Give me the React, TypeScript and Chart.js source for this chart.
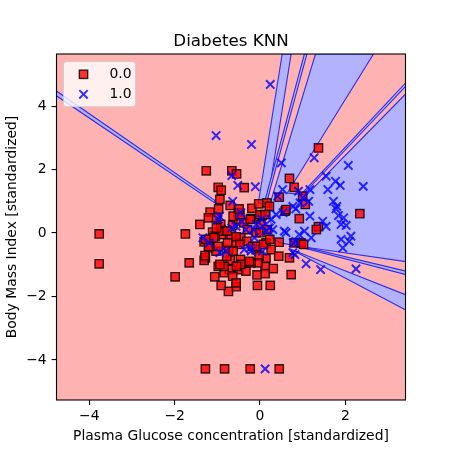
import { useEffect, useRef } from "react";
import { Chart, registerables } from "chart.js";

Chart.register(...registerables);

// Axis limits (standardized units)
const X_MIN = -4.77;
const X_MAX = 3.41;
const Y_MIN = -5.26;
const Y_MAX = 5.64;

const xTicks = [-4, -2, 0, 2];
const yTicks = [-4, -2, 0, 2, 4];

const classLabels = ["0.0", "1.0"];

// Class 0.0 samples: [glucose, bmi]
const class0Points: [number, number][] = [
  [-3.77, -0.03], [-3.77, -0.97], [-1.99, -1.38], [-1.75, -0.03], [-1.66, -0.94],
  [-1.28, -4.28], [-0.83, -4.28], [-0.23, -4.28], [0.45, -4.28],
  [-1.26, 1.96], [-0.66, 1.96], [-0.55, 1.86], [1.37, 2.68], [2.34, 0.61], [0.69, 1.72], [0.80, 1.44],
  [-0.98, 1.44], [-0.91, 1.35], [-0.37, 1.43], [-0.94, 1.06], [1.00, 1.16], [1.06, 0.90], [0.45, 1.13],
  [0.59, 0.69], [0.92, 0.45], [1.37, 0.20], [1.32, 0.11],
  [-1.41, 0.27], [-1.17, 0.66], [-0.97, 0.76], [-0.70, 0.87], [-0.51, 0.64], [-0.19, 0.78], [-0.03, 0.92],
  [0.05, 0.56], [0.16, 0.95], [-0.21, 0.45], [-0.64, 0.24], [-0.91, 0.11], [-1.11, 0.03], [-1.31, -0.28],
  [-1.19, -0.47], [-1.03, -0.57], [-0.73, -0.52], [-0.91, -0.05], [-0.68, -0.05], [-0.45, -0.15],
  [-0.31, -0.26], [-0.17, -0.42], [0.14, -0.31], [0.26, -0.52], [0.45, -0.29], [0.44, -0.73],
  [0.69, -0.78], [0.80, -0.31], [0.96, -0.31], [1.02, -0.36], [0.73, -1.31], [0.31, -1.12],
  [0.14, -0.81], [0.12, -1.05], [0.12, -1.28], [-0.07, -1.32], [-0.06, -1.65], [0.24, -1.65],
  [-0.56, -1.69], [-0.74, -1.84], [-0.91, -1.65], [-1.06, -1.38], [-0.98, -1.05], [-0.70, -0.86],
  [-0.49, -1.15], [-0.33, -1.20], [-0.46, -0.83], [-0.72, -1.15], [-0.64, -1.36], [-0.84, -1.25],
  [-1.28, -0.78], [-1.31, -0.86], [-1.19, -0.20], [-1.05, -0.10], [-0.92, 0.27], [-0.87, 0.06],
  [-0.50, 0.43], [-0.38, 0.32], [-0.29, 0.11], [-0.09, 0.01], [0.02, 0.27], [0.22, 0.84],
  [-0.09, -0.52], [-0.02, -0.73], [-0.05, -0.94], [-0.21, -0.94], [-0.45, -0.99], [-0.76, -0.31],
  [-0.56, -0.31], [-0.56, -1.57], [-1.02, 0.48], [-1.21, 0.48], [-0.63, 0.53], [-0.47, 0.58],
  [-0.23, 0.43], [0.00, 0.58], [0.12, 0.58], [0.00, 0.01], [-0.08, -0.42], [-1.02, 0.16],
  [-0.77, 0.06], [-0.56, -0.12], [-0.47, -0.36], [0.08, -0.36], [0.23, -0.20], [-0.84, -1.05],
  [-0.55, -1.05], [-0.25, -0.89], [-0.94, -0.99], [-1.29, -0.71], [-0.78, -0.73], [-0.63, -0.57],
  [-0.98, -0.42], [-1.21, -0.42], [-1.09, -0.15], [-1.27, -0.20], [0.61, 0.74], [-0.49, 0.76],
  [0.16, 0.11],
];

// Class 1.0 samples: [glucose, bmi]
const class1Points: [number, number][] = [
  [0.24, 4.68], [-1.03, 3.07], [-0.20, 2.79], [1.27, 2.37], [0.50, 2.21], [2.07, 2.13],
  [-0.66, 1.81], [-0.52, 1.50], [-0.11, 1.46], [1.55, 1.79], [1.77, 1.63], [1.88, 1.50],
  [2.42, 1.47], [1.59, 1.37], [1.17, 1.37], [1.00, 1.11], [1.14, 1.00], [0.53, 1.37],
  [0.41, 1.16], [0.77, 0.84], [0.84, 0.76], [1.78, 0.76], [1.84, 0.55], [1.96, 0.48],
  [1.90, 0.27], [2.02, 0.24], [1.47, 0.37], [1.55, 0.21], [2.13, -0.10], [1.90, -0.20],
  [2.09, -0.26], [1.94, -0.47], [1.04, 0.06], [1.20, -0.15], [0.92, -0.05], [0.57, 0.06],
  [0.77, -0.62], [1.08, -0.97], [1.42, -1.15], [2.25, -1.13], [0.12, -4.28], [-1.34, -0.15],
  [-1.19, -0.31], [-0.95, 0.53], [-0.64, 1.00], [-0.45, 0.64], [-0.56, 0.21], [-0.33, 0.11],
  [-0.09, 0.27], [0.06, 0.21], [0.22, 0.16], [0.30, 0.11], [0.14, 0.06], [-0.13, -0.15],
  [-0.37, -0.52], [-0.21, -0.57], [0.06, -0.57], [-0.80, -0.57], [0.26, 0.43], [0.38, 0.58],
  [0.61, 0.01], [0.84, -0.26], [-0.43, 0.37], [-0.16, 0.11], [0.78, -0.31], [-0.23, -0.47],
  [-0.94, -0.62], [0.82, -0.68], [-0.98, 0.43], [-0.66, 0.16], [0.90, 1.32], [1.72, 1.00],
  [0.94, 0.95], [1.17, 0.53], [0.54, 0.64], [0.04, 0.43], [1.80, 0.84],
];

// Areas the classifier assigns to class 1.0 (polygons in data units);
// everything else inside the axes belongs to class 0.0.
const class1Regions: [number, number][][] = [
  [[0.52, 5.64], [0.73, 5.64], [0.17, 0.94], [-0.04, 0.94]],
  [[1.04, 5.64], [1.10, 5.64], [0.17, 1.04], [0.12, 1.04]],
  [
    [1.30, 5.64], [2.66, 5.64], [0.64, 1.26], [1.09, 1.20], [3.42, 4.39], [3.42, -0.90],
    [1.65, -0.56], [0.87, -0.41], [0.48, -0.31], [0.29, -0.16], [0.24, 0.57], [0.24, 0.94],
  ],
  [[3.42, 4.74], [3.42, 4.63], [1.04, 1.26], [0.99, 1.26]],
  [[3.42, -1.20], [3.42, -1.31], [0.94, -0.44], [0.94, -0.41]],
  [[1.65, -1.01], [3.42, -1.95], [3.42, -2.43], [1.65, -1.17], [0.71, -0.50]],
  [[-4.8, 4.50], [-4.8, 4.35], [-1.05, 0.94], [-1.07, 1.04]],
];

const FONT = "'DejaVu Sans', 'Liberation Sans', sans-serif";
const PINK = "rgb(255,178,178)";
const LIGHT_BLUE = "rgb(178,178,255)";
const EDGE_BLUE = "rgb(45,45,240)";
const RED_FILL = "rgba(255,0,0,0.8)";
const RED_EDGE = "rgba(0,0,0,0.8)";
const BLUE_MARK = "rgba(0,0,255,0.8)";
const MARKER_R = 5.9;

const fmtTick = (v: number) => (v < 0 ? "\u2212" + Math.abs(v) : String(v));

const regionsPlugin = {
  id: "decisionRegions",
  beforeDatasetsDraw(chart: any) {
    const { ctx, chartArea: a, scales } = chart;
    const sx = scales.x;
    const sy = scales.y;
    ctx.save();
    ctx.beginPath();
    ctx.rect(a.left, a.top, a.right - a.left, a.bottom - a.top);
    ctx.clip();
    ctx.fillStyle = PINK;
    ctx.fillRect(a.left, a.top, a.right - a.left, a.bottom - a.top);
    for (const poly of class1Regions) {
      ctx.beginPath();
      poly.forEach(([vx, vy], i) => {
        const px = sx.getPixelForValue(vx);
        const py = sy.getPixelForValue(vy);
        if (i === 0) ctx.moveTo(px, py);
        else ctx.lineTo(px, py);
      });
      ctx.closePath();
      ctx.fillStyle = LIGHT_BLUE;
      ctx.fill();
      ctx.strokeStyle = EDGE_BLUE;
      ctx.lineWidth = 1.1;
      ctx.lineJoin = "miter";
      ctx.stroke();
    }
    ctx.restore();
  },
  afterDatasetsDraw(chart: any) {
    const { ctx, chartArea: a } = chart;
    ctx.save();
    ctx.strokeStyle = "#000";
    ctx.lineWidth = 1.1;
    ctx.strokeRect(a.left, a.top, a.right - a.left, a.bottom - a.top);
    ctx.restore();
  },
  afterDraw(chart: any) {
    const { ctx, chartArea: a } = chart;
    const cx = (a.left + a.right) / 2;
    const cy = (a.top + a.bottom) / 2;
    ctx.save();
    ctx.fillStyle = "#000";

    // Title
    ctx.font = `16.7px ${FONT}`;
    ctx.textAlign = "center";
    ctx.textBaseline = "alphabetic";
    ctx.fillText("Diabetes KNN", cx, a.top - 8.3);

    // Axis titles
    ctx.font = `13.9px ${FONT}`;
    ctx.fillText("Plasma Glucose concentration [standardized]", cx, 440);
    ctx.save();
    ctx.translate(16, cy);
    ctx.rotate(-Math.PI / 2);
    ctx.fillText("Body Mass Index [standardized]", 0, 0);
    ctx.restore();

    // Legend
    const lx = a.left + 7;
    const ly = a.top + 7.7;
    const lw = 72;
    const lh = 45;
    ctx.beginPath();
    ctx.roundRect(lx, ly, lw, lh, 3);
    ctx.fillStyle = "rgba(255,255,255,0.8)";
    ctx.fill();
    ctx.strokeStyle = "rgba(204,204,204,0.8)";
    ctx.lineWidth = 1;
    ctx.stroke();

    const mx = lx + 20;
    const row0 = ly + 12.6;
    const row1 = ly + 32.6;
    const half = MARKER_R * Math.SQRT1_2;
    ctx.fillStyle = RED_FILL;
    ctx.fillRect(mx - half, row0 - half, half * 2, half * 2);
    ctx.strokeStyle = RED_EDGE;
    ctx.lineWidth = 1.4;
    ctx.strokeRect(mx - half, row0 - half, half * 2, half * 2);

    ctx.strokeStyle = BLUE_MARK;
    ctx.lineWidth = 2;
    ctx.beginPath();
    ctx.moveTo(mx - half, row1 - half);
    ctx.lineTo(mx + half, row1 + half);
    ctx.moveTo(mx - half, row1 + half);
    ctx.lineTo(mx + half, row1 - half);
    ctx.stroke();

    ctx.fillStyle = "#000";
    ctx.font = `13.9px ${FONT}`;
    ctx.textAlign = "left";
    ctx.textBaseline = "middle";
    ctx.fillText(classLabels[0], lx + 46, row0);
    ctx.fillText(classLabels[1], lx + 46, row1);
    ctx.restore();
  },
};

export default function App() {
  const canvasRef = useRef<HTMLCanvasElement | null>(null);

  useEffect(() => {
    const canvas = canvasRef.current;
    if (!canvas) return;

    const tickFont = { family: FONT, size: 13.9 };
    const chart = new Chart(canvas, {
      type: "scatter",
      data: {
        datasets: [
          {
            label: classLabels[0],
            data: class0Points.map(([x, y]) => ({ x, y })),
            pointStyle: "rect",
            pointRadius: MARKER_R,
            backgroundColor: RED_FILL,
            borderColor: RED_EDGE,
            borderWidth: 1.4,
            order: 2,
          },
          {
            label: classLabels[1],
            data: class1Points.map(([x, y]) => ({ x, y })),
            pointStyle: "crossRot",
            pointRadius: MARKER_R,
            backgroundColor: BLUE_MARK,
            borderColor: BLUE_MARK,
            borderWidth: 2,
            order: 1,
          },
        ],
      },
      options: {
        responsive: false,
        animation: false,
        devicePixelRatio: 1,
        layout: { padding: { top: 54, right: 44.5, left: 0, bottom: 0 } },
        plugins: {
          legend: { display: false },
          tooltip: { enabled: false },
          title: { display: false },
        },
        scales: {
          x: {
            type: "linear",
            min: X_MIN,
            max: X_MAX,
            afterBuildTicks: (s: any) => {
              s.ticks = xTicks.map((v) => ({ value: v }));
            },
            afterFit: (s: any) => {
              s.height = 50;
            },
            border: { display: false },
            grid: {
              display: true,
              drawOnChartArea: false,
              drawTicks: true,
              tickLength: 4.9,
              color: "#000",
              lineWidth: 1.1,
            },
            ticks: {
              color: "#000",
              font: tickFont,
              padding: 3,
              maxRotation: 0,
              autoSkip: false,
              callback: (v: any) => fmtTick(Number(v)),
            },
          },
          y: {
            type: "linear",
            min: Y_MIN,
            max: Y_MAX,
            afterBuildTicks: (s: any) => {
              s.ticks = yTicks.map((v) => ({ value: v }));
            },
            afterFit: (s: any) => {
              s.width = 56.5;
            },
            border: { display: false },
            grid: {
              display: true,
              drawOnChartArea: false,
              drawTicks: true,
              tickLength: 4.9,
              color: "#000",
              lineWidth: 1.1,
            },
            ticks: {
              color: "#000",
              font: tickFont,
              padding: 4.9,
              autoSkip: false,
              callback: (v: any) => fmtTick(Number(v)),
            },
          },
        },
      },
      plugins: [regionsPlugin],
    });

    return () => chart.destroy();
  }, []);

  return (
    <div style={{ position: "fixed", left: 0, top: 0, width: 450, height: 450, background: "#fff" }}>
      <canvas ref={canvasRef} width={450} height={450} />
    </div>
  );
}
